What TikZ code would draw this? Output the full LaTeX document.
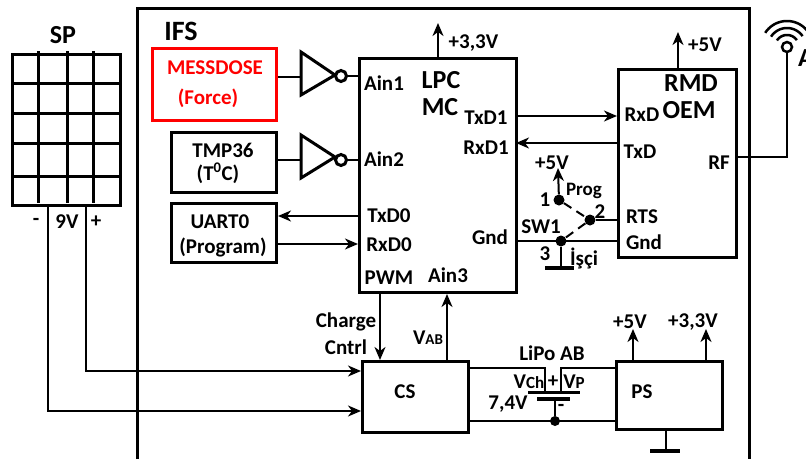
\documentclass[tikz,border=0pt]{standalone}
\usepackage{fontspec}
\setmainfont{Carlito}[BoldFont={Carlito Bold}]
\usetikzlibrary{arrows.meta}
\tikzset{
  box/.style={draw=black,line width=3pt,inner sep=0pt,fill=none},
  wire/.style={line width=2pt,draw=black},
  awire/.style={wire,-{Stealth[length=13pt,width=11pt,inset=4pt]}},
  txt/.style={font=\fontsize{21}{23}\bfseries\selectfont,inner sep=0pt,align=center},
  big/.style={font=\fontsize{26}{28}\bfseries\selectfont,inner sep=0pt,align=center},
  dot/.style={circle,fill=black,inner sep=0pt,minimum size=11pt},
  bubble/.style={circle,draw=black,line width=3pt,inner sep=0pt,minimum size=11pt,fill=white},
  inv/.style={line width=3pt,draw=black,line join=miter},
  bar/.style={line width=4pt,draw=black},
}
\begin{document}
\begin{tikzpicture}[x=1pt,y=-1pt]
\useasboundingbox (0,0) rectangle (806,459);
% IFS frame
\coordinate (fa) at (137,459); \coordinate (fb) at (137,8); \coordinate (fc) at (749,8); \coordinate (fd) at (749,459);
\draw[line width=3pt] (fa) -- (fb) -- (fc) -- (fd);
% solar panel
\node[box,minimum width=108pt,minimum height=151pt,anchor=north west] (sp) at (11,53) {};
\foreach \x in {38,67,93} \draw[line width=3pt] (\x,51) -- (\x,203);
\foreach \y in {83,113,143,176} \draw[line width=3pt] (11,\y) -- (119,\y);
% boxes
\node[box,draw=red,minimum width=124pt,minimum height=72pt,anchor=north west] (mess) at (151,47) {};
\node[box,minimum width=105pt,minimum height=60pt,anchor=north west] (tmp) at (170,131) {};
\node[box,minimum width=105pt,minimum height=59pt,anchor=north west] (uart) at (170,202) {};
\node[box,minimum width=157pt,minimum height=234pt,anchor=north west] (lpc) at (358,57) {};
\node[box,minimum width=118pt,minimum height=188pt,anchor=north west] (rmd) at (617,68) {};
\node[box,minimum width=106pt,minimum height=71pt,anchor=north west] (cs) at (361,360) {};
\node[box,minimum width=106pt,minimum height=68pt,anchor=north west] (ps) at (615,360) {};
% inverters
\draw[inv] (301,52) -- (335,75) -- (301,95) -- cycle;
\node[bubble] (b1) at (341,76) {};
\draw[inv] (301,135) -- (335,157) -- (301,178) -- cycle;
\node[bubble] (b2) at (341,160) {};
\coordinate (i1) at (301,77); \coordinate (i2) at (301,160);
\draw[wire] (mess.east |- i1) -- (i1);
\draw[wire] (tmp.east |- i2) -- (i2);
\draw[wire] (b1.east) -- (lpc.west |- b1.east);
\draw[wire] (b2.east) -- (lpc.west |- b2.east);
% power arrows
\coordinate (v33) at (438,23); \coordinate (v5) at (678,32);
\draw[awire] (lpc.north -| v33) -- (v33);
\draw[awire] (rmd.north -| v5) -- (v5);
% serial lines
\coordinate (t1) at (516,116); \coordinate (t2) at (516,143);
\draw[awire] (t1) -- (rmd.west |- t1);
\draw[awire] (rmd.west |- t2) -- (t2);
\coordinate (u1) at (278,216); \coordinate (u2) at (278,244);
\draw[awire] (lpc.west |- u1) -- (u1);
\draw[awire] (u2) -- (lpc.west |- u2);
% charge and VAB
\coordinate (c1) at (380,300); \coordinate (c2) at (447,300);
\draw[awire] (lpc.south -| c1) -- (cs.north -| c1);
\draw[awire] (cs.north -| c2) -- (lpc.south -| c2);
% solar wires
\coordinate (s1) at (48,411); \coordinate (s2) at (86,371);
\draw[awire] (sp.south -| s1) -- (s1) -- (cs.west |- s1);
\draw[awire] (sp.south -| s2) -- (s2) -- (cs.west |- s2);
% switch
\node[dot] (n1) at (559,200) {};
\node[dot] (n2) at (590,220) {};
\node[dot] (n3) at (561,241) {};
\coordinate (v5s) at (558,168);
\draw[awire] (n1) -- (v5s);
\draw[wire,dash pattern=on 9pt off 6pt] (n1) -- (n2);
\draw[wire,dash pattern=on 9pt off 6pt] (n2) -- (n3);
\draw[wire] (n2) -- (rmd.west |- n2);
\draw[wire] (lpc.east |- n3) -- (rmd.west |- n3);
\coordinate (g1) at (560,268);
\draw[wire] (n3) -- (n3 |- g1);
\coordinate (g1a) at (545,268); \coordinate (g1b) at (574,268);
\draw[bar] (g1a) -- (g1b);
% battery
\coordinate (bl) at (545,392); \coordinate (br) at (561,392); \coordinate (tw) at (500,368);
\draw[wire] (cs.east |- tw) -- (bl |- tw) -- (bl);
\draw[wire] (ps.west |- tw) -- (br |- tw) -- (br);
\coordinate (b1a) at (528,392); \coordinate (b1b) at (580,392);
\draw[line width=3pt] (b1a) -- (b1b);
\coordinate (b2a) at (537,399); \coordinate (b2b) at (570,399);
\draw[bar] (b2a) -- (b2b);
\node[circle,fill=black,inner sep=0pt,minimum size=10pt] (n4) at (555,421) {};
\draw[wire] (n4 |- b2a) -- (n4);
\draw[wire] (cs.east |- n4) -- (ps.west |- n4);
% PS
\coordinate (p5) at (633,329); \coordinate (p3) at (706,329);
\draw[awire] (ps.north -| p5) -- (p5);
\draw[awire] (ps.north -| p3) -- (p3);
\coordinate (g2) at (666,451);
\draw[wire] (ps.south -| g2) -- (g2);
\coordinate (g2a) at (650,451); \coordinate (g2b) at (680,451);
\draw[bar] (g2a) -- (g2b);
% antenna
\node[circle,draw=black,line width=2.5pt,inner sep=0pt,minimum size=10pt] (ant) at (787,47) {};
\coordinate (rf) at (787,157);
\draw[wire] (rmd.east |- rf) -- (rf) -- (ant.south);
\foreach \r in {12,19,26}
  \draw[line width=2.5pt,shift={(ant.center)}] plot[domain=35:147,samples=30] ({\r*cos(\x)},{-\r*sin(\x)});
% texts
\node[txt,font=\fontsize{26}{28}\bfseries\selectfont] (tsp) at (63,35) {SP};
\node[txt,font=\fontsize{28}{30}\bfseries\selectfont] (tifs) at (181,31) {IFS};
\node[txt] at (36,222) {-};
\node[txt] at (67,222) {9V};
\node[txt] at (96,222) {+};
\node[txt,text=red] (t1a) at (215,68) {MESSDOSE};
\node[txt,text=red] (t1b) at (208,98) {(Force)};
\node[txt] at (223,150) {TMP36};
\node[txt] at (218,173) {(T\textsuperscript{0}C)};
\node[txt] at (220,222) {UART0};
\node[txt] at (223,247) {(Program)};
\node[txt] at (384,83) {Ain1};
\node[txt] at (384,159) {Ain2};
\node[txt] at (389,216) {TxD0};
\node[txt] at (389,245) {RxD0};
\node[txt] at (389,278) {PWM};
\node[txt] at (448,275) {Ain3};
\node[big] at (441,80) {LPC};
\node[big] at (440,107) {MC};
\node[txt] at (486,118) {TxD1};
\node[txt] at (486,148) {RxD1};
\node[txt] at (490,237) {Gnd};
\node[txt] at (541,227) {SW1};
\node[txt] at (473.5,43) {+3,3V};
\node[txt] at (705,45) {+5V};
\node[big] at (691,83) {RMD};
\node[big] at (689,110) {OEM};
\node[txt] at (642,115) {RxD};
\node[txt] at (640,152) {TxD};
\node[txt] at (719,163) {RF};
\node[txt] at (642,217) {RTS};
\node[txt] at (644,242) {Gnd};
\node[txt] at (552,163) {+5V};
\node[txt,font=\fontsize{19}{21}\bfseries\selectfont] at (584,191) {Prog};
\node[txt] at (545,200) {1};
\node[txt] at (600,212) {2};
\node[txt] at (545,254) {3};
\node[txt] at (584,258) {İşçi};
\node[txt] at (346,322) {Charge};
\node[txt] at (346,347) {Cntrl};
\node[txt] at (428,338) {V\fontsize{15}{17}\selectfont AB};
\node[txt] at (552,353) {LiPo AB};
\node[txt] at (529,382) {V\fontsize{17}{18}\selectfont Ch};
\node[txt] at (553,382) {+};
\node[txt] at (574,382) {V\fontsize{17}{18}\selectfont P};
\node[txt] at (508,404) {7,4V};
\node[txt] at (561,408) {-};
\node[txt] at (405,392) {CS};
\node[txt] at (642,392) {PS};
\node[txt] at (630,322) {+5V};
\node[txt] at (693,322) {+3,3V};
\node[big] at (806,58) {A};
\end{tikzpicture}
\end{document}
